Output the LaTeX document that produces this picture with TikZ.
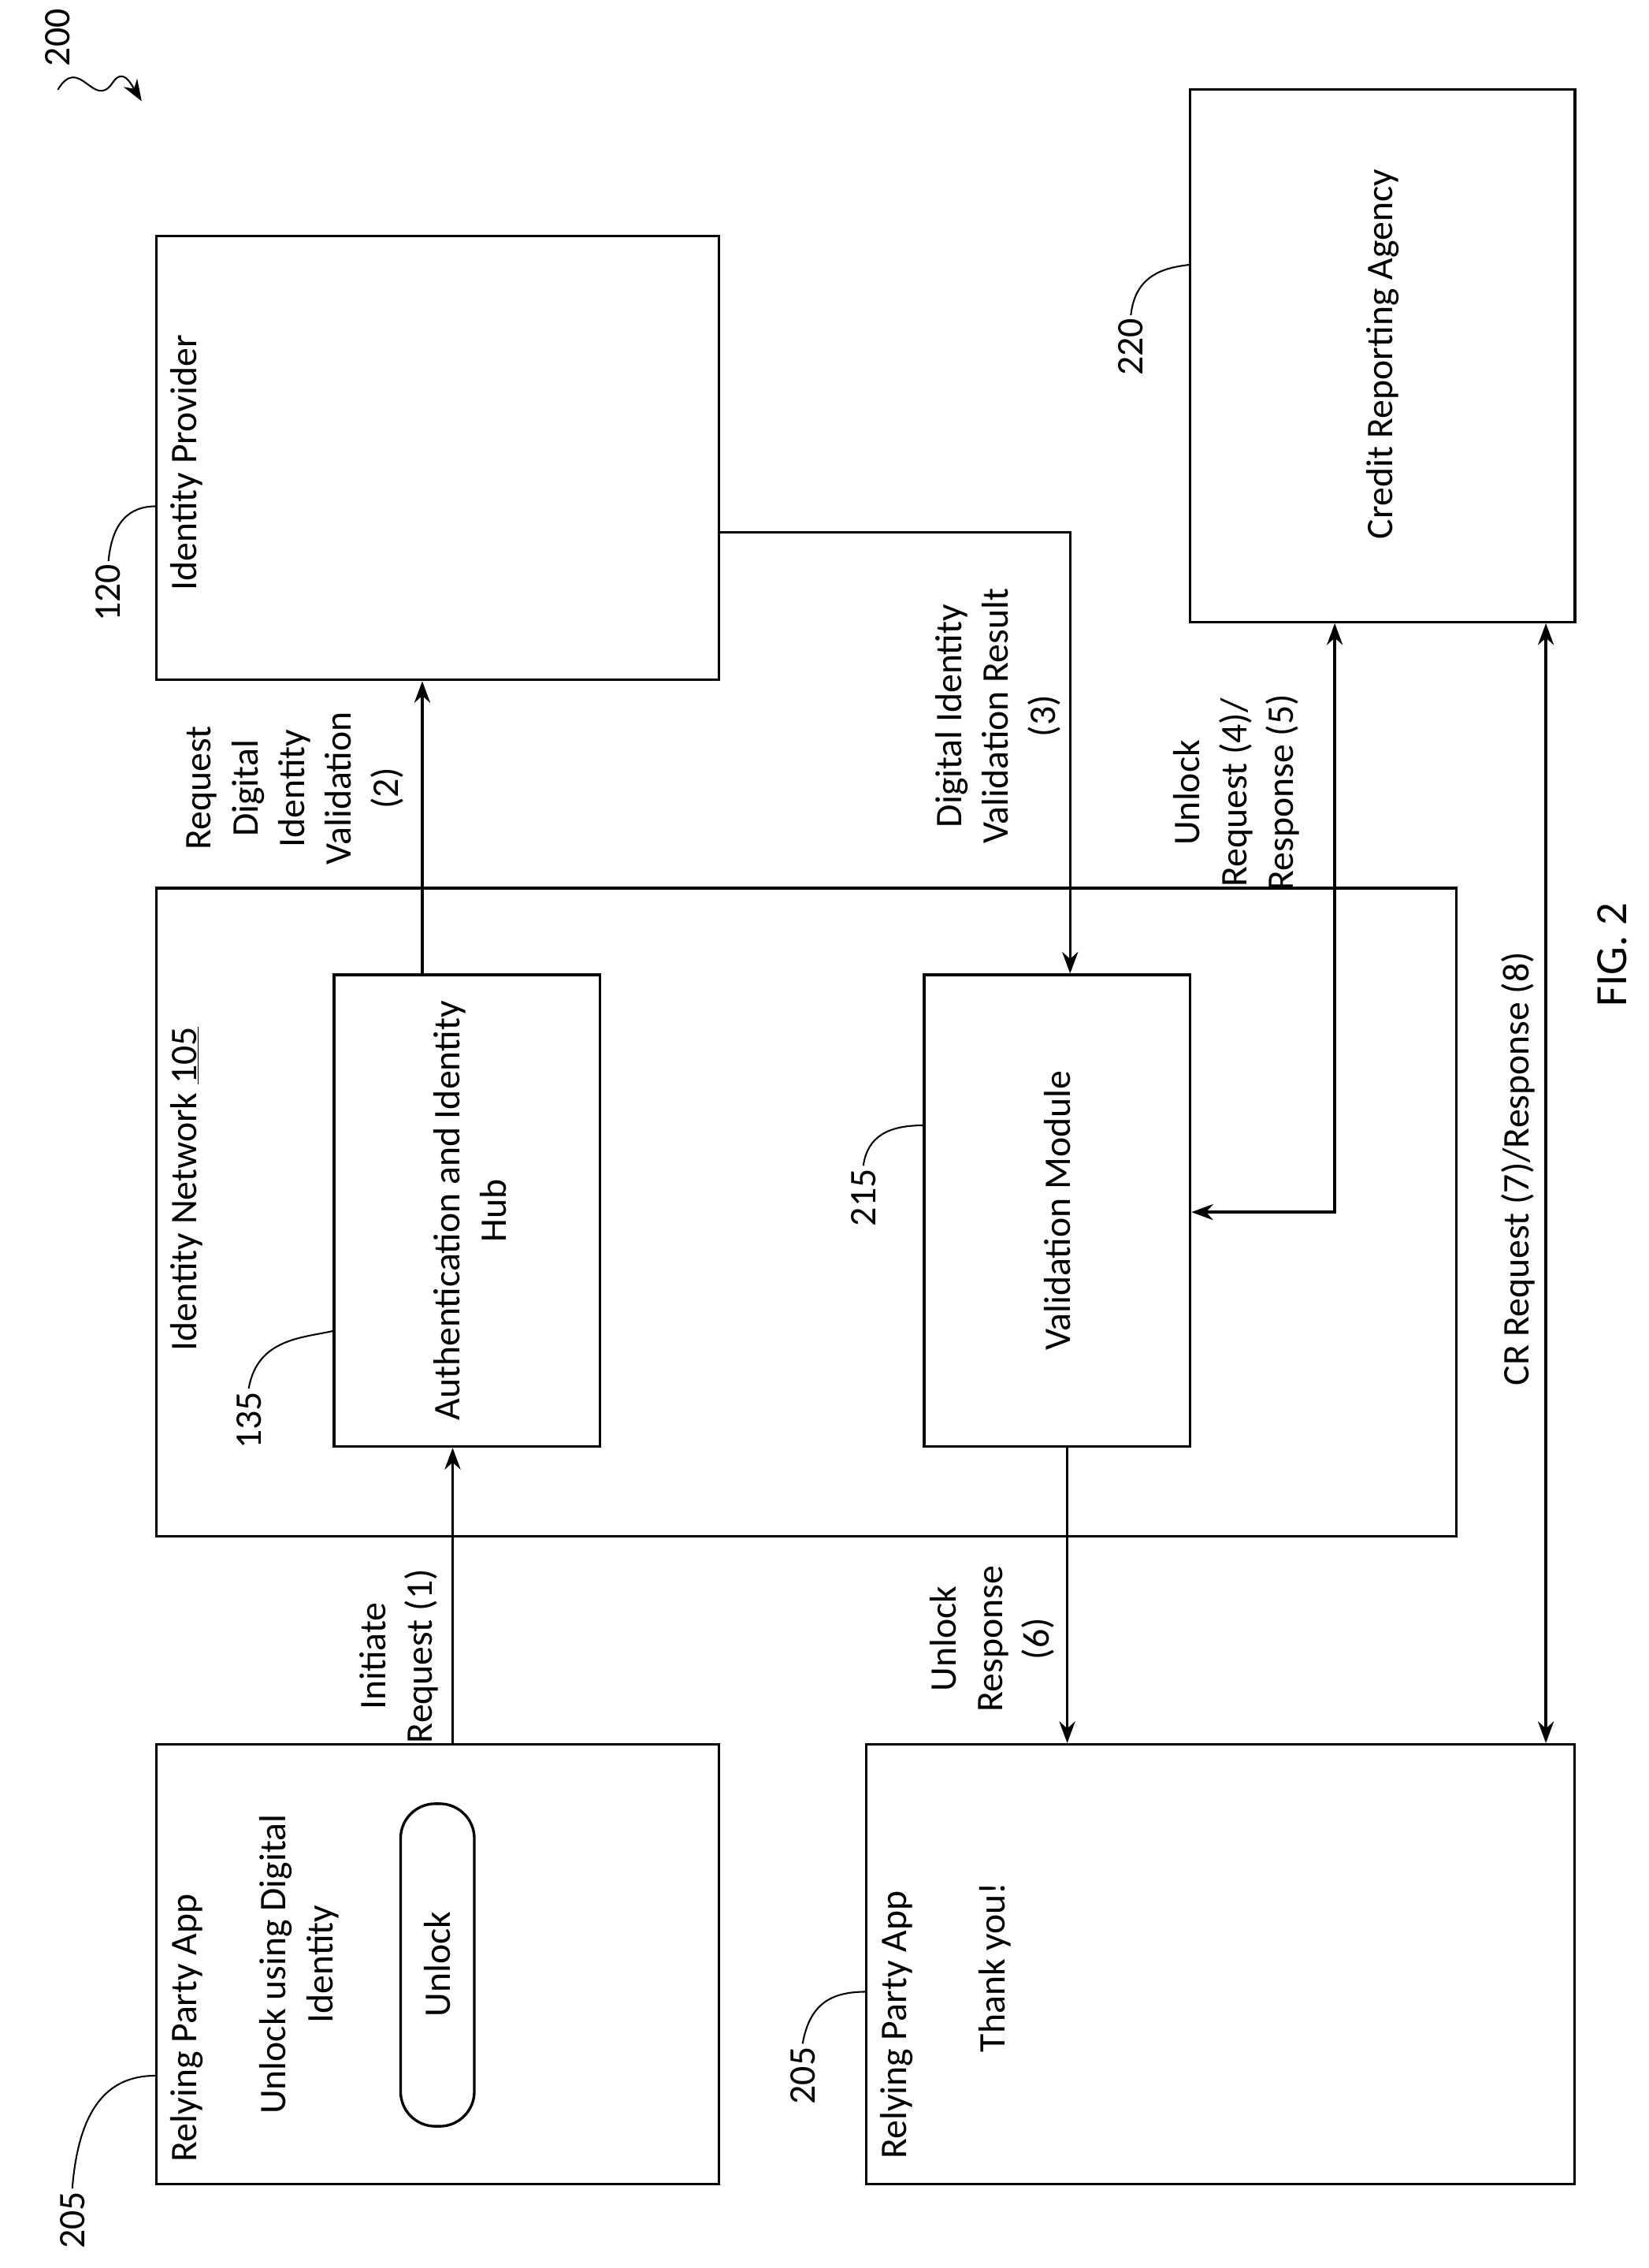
\documentclass[tikz,border=0pt]{standalone}
\usepackage{fontspec}
\setmainfont{Carlito}
\usetikzlibrary{arrows.meta,positioning}

\begin{document}
\begin{tikzpicture}[
  x=0.05cm, y=-0.05cm,
  line width=2.6pt,
  every node/.style={font=\fontsize{37}{46}\selectfont},
  box/.style={draw, rectangle, inner sep=0pt},
  txt/.style={rotate=90, align=center, inner sep=0pt},
  ref/.style={rotate=90, inner sep=2pt},
  >={Stealth[length=0.75cm,width=0.55cm]}
]
\useasboundingbox (0,0) rectangle (1140,1568);

% Boxes
\node[box, minimum width=19.45cm, minimum height=15.35cm] (idp) at (302.5,316.5) {};
\node[box, minimum width=13.3cm,  minimum height=18.4cm]  (cra) at (956,246) {};
\node[box, minimum width=44.95cm, minimum height=22.4cm]  (net) at (557.5,838) {};
\node[box, minimum width=9.2cm,   minimum height=16.3cm]  (hub) at (323,837) {};
\node[box, minimum width=9.2cm,   minimum height=16.3cm]  (val) at (731,837) {};
\node[box, minimum width=19.45cm, minimum height=15.2cm]  (rpl) at (302.5,1358) {};
\node[box, minimum width=24.5cm,  minimum height=15.2cm]  (rpr) at (844,1358) {};
\node[box, rounded corners=1.2cm, minimum width=2.55cm, minimum height=11.15cm] (btn) at (302.5,1358.5) {};

% Texts
\node[txt] (idptxt) at (129,320) {Identity Provider};
\node[txt] (cratxt) at (956,245) {Credit Reporting Agency};
\node[txt] (nettxt) at (129,822) {Identity Network \underline{105}};
\node[txt] (hubtxt) at (325,837) {Authentication and Identity\\Hub};
\node[txt] (valtxt) at (731,837) {Validation Module};
\node[txt] (rpltxt) at (129,1402) {Relying Party App};
\node[txt] (unltxt) at (207,1358) {Unlock using Digital\\Identity};
\node[txt] (btntxt) at (302.5,1358) {Unlock};
\node[txt] (rprtxt) at (620,1400) {Relying Party App};
\node[txt] (thxtxt) at (688,1360) {Thank you!};
\node[txt] (fig) at (1115,660) {\fontsize{44}{50}\selectfont FIG. 2};

% Reference numerals
\node[ref] (n200) at (40,26) {200};
\node[ref] (n120) at (75,410) {120};
\node[ref] (n220) at (782,240) {220};
\node[ref] (n135) at (172,982) {135};
\node[ref] (n215) at (597,828) {215};
\node[ref] (n205a) at (50,1535) {205};
\node[ref] (n205b) at (555,1435) {205};

\coordinate (c200) at (98,70);
\coordinate (c120) at (108,350);
\coordinate (c220) at (823,183);
\coordinate (c135) at (231,920);
\coordinate (c215) at (639,778);
\coordinate (c205a) at (108,1435);
\coordinate (c205b) at (599,1377);

\begin{scope}[line width=1.6pt]
\draw[->] (40,62) .. controls (55,37) and (65,77) .. (78,57) .. controls (85,47) and (90,57) .. (c200);
\draw (n120.east) .. controls (78,355) and (95,350) .. (c120);
\draw (n220.east) .. controls (785,190) and (805,185) .. (c220);
\draw (n135.east) .. controls (178,925) and (210,925) .. (c135);
\draw (n215.east) .. controls (600,785) and (615,778) .. (c215);
\draw (n205a.east) .. controls (55,1450) and (80,1435) .. (c205a);
\draw (n205b.east) .. controls (560,1385) and (575,1377) .. (c205b);
\end{scope}

% Connectors
\draw[->] (rpl.north -| 313,0) -- (hub.south -| 313,0);
\draw[->] (hub.north -| 292,0) -- (idp.south -| 292,0);
\draw[->] (idp.east |- 0,368) -| (val.north -| 740,0);
\draw[<->] (cra.south -| 923,0) |- (val.east |- 0,838);
\draw[->] (val.south -| 738,0) -- (rpr.north -| 738,0);
\draw[<->] (cra.south -| 1069,0) -- (rpr.north -| 1069,0);

% Connector labels
\node[txt] at (276,1145) {Initiate\\Request (1)};
\node[txt] at (204,545) {Request\\Digital\\Identity\\Validation\\(2)};
\node[txt] at (690,495) {Digital Identity\\Validation Result\\(3)};
\node[txt] at (855,548) {Unlock\\Request (4)/\\Response (5)};
\node[txt] at (686,1133) {Unlock\\Response\\(6)};
\node[txt] at (1050,808) {CR Request (7)/Response (8)};

\end{tikzpicture}
\end{document}
